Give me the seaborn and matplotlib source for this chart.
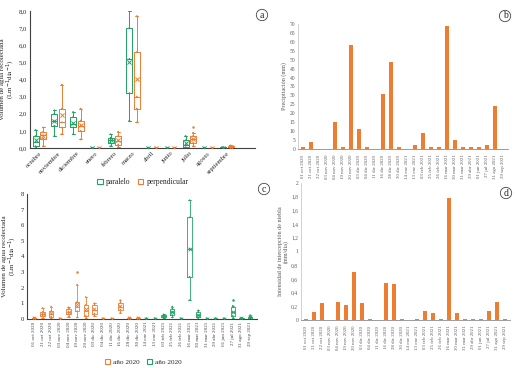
import pandas as pd
import seaborn as sns
import matplotlib.pyplot as plt
from matplotlib.patches import Patch

sns.set_style("white")
plt.rcParams["font.family"] = ["Liberation Serif", "DejaVu Serif"]

VERDE = "#1FA463"
NARANJA = "#ED7D31"

# panel a: resumen de cinco numeros (min, q1, mediana, q3, max) por mes
meses = ["octubre", "noviembre", "diciembre", "enero", "febrero", "marzo",
         "abril", "junio", "julio", "agosto", "septiembre"]
paralelo = [
    [0.0, 0.1, 0.35, 0.7, 1.05],
    [0.7, 1.3, 1.55, 2.0, 2.2],
    [0.8, 1.2, 1.4, 1.8, 2.1],
    [0.0, 0.0, 0.0, 0.0, 0.02],
    [0.1, 0.3, 0.45, 0.6, 0.8],
    [1.6, 3.2, 5.2, 7.0, 8.0],
    [0.0, 0.0, 0.0, 0.0, 0.02],
    [0.0, 0.0, 0.0, 0.0, 0.02],
    [0.0, 0.05, 0.2, 0.45, 0.7],
    [0.0, 0.0, 0.0, 0.0, 0.02],
    [0.0, 0.01, 0.02, 0.03, 0.05],
]
perpendicular = [
    [0.1, 0.55, 0.75, 0.95, 1.2],
    [0.8, 1.2, 1.5, 2.3, 3.7],
    [0.5, 1.0, 1.3, 1.6, 2.3],
    [0.0, 0.0, 0.0, 0.0, 0.02],
    [0.05, 0.2, 0.4, 0.7, 0.95],
    [1.5, 2.3, 3.0, 5.6, 7.7],
    [0.0, 0.0, 0.0, 0.0, 0.02],
    [0.0, 0.0, 0.0, 0.0, 0.02],
    [0.1, 0.3, 0.5, 0.7, 0.9],
    [0.0, 0.0, 0.0, 0.0, 0.02],
    [0.02, 0.05, 0.08, 0.12, 0.15],
]
atipicos_a = [("julio", "perpendicular", 1.2)]

# fechas de muestreo (paneles b, c, d)
fechas = ["01 oct 2020", "21 oct 2020", "22 oct 2020", "03 nov 2020", "04 nov 2020",
          "19 nov 2020", "20 nov 2020", "03 dic 2020", "04 dic 2020", "11 dic 2020",
          "16 dic 2020", "28 dic 2020", "30 dic 2020", "14 ene 2021", "13 ene 2021",
          "03 feb 2021", "25 feb 2021", "26 feb 2021", "16 mar 2021", "30 mar 2021",
          "31 mar 2021", "29 abr 2021", "01 jun 2021", "27 jul 2021", "31 ago 2021",
          "29 sep 2021"]
precipitacion = [1, 4, 0, 0, 15, 1, 58, 11, 1, 0, 31, 49, 1, 0, 2, 9, 1, 1, 69, 5,
                 1, 1, 1, 2, 24, 0]
intensidad = [0.02, 0.12, 0.25, 0.0, 0.27, 0.22, 0.70, 0.25, 0.01, 0.0, 0.54, 0.52,
              0.01, 0.0, 0.02, 0.13, 0.10, 0.01, 1.78, 0.10, 0.01, 0.01, 0.01, 0.13,
              0.27, 0.01]

# panel c: resumen por fecha
anio = ["año 2020"] * 13 + ["año 2020 "] * 13
volumen_c = [
    [0.0, 0.02, 0.05, 0.08, 0.1],
    [0.05, 0.2, 0.3, 0.45, 0.7],
    [0.05, 0.15, 0.3, 0.5, 0.8],
    [0.0, 0.0, 0.02, 0.03, 0.05],
    [0.15, 0.3, 0.45, 0.65, 0.75],
    [0.1, 0.5, 0.8, 1.1, 2.2],
    [0.05, 0.2, 0.5, 0.9, 1.4],
    [0.2, 0.35, 0.6, 0.9, 1.0],
    [0.0, 0.0, 0.02, 0.03, 0.05],
    [0.0, 0.0, 0.02, 0.03, 0.05],
    [0.4, 0.6, 0.8, 1.05, 1.2],
    [0.0, 0.02, 0.05, 0.08, 0.1],
    [0.0, 0.02, 0.05, 0.08, 0.1],
    [0.0, 0.0, 0.02, 0.03, 0.05],
    [0.0, 0.0, 0.02, 0.03, 0.05],
    [0.05, 0.1, 0.2, 0.25, 0.3],
    [0.1, 0.25, 0.45, 0.65, 0.8],
    [0.0, 0.0, 0.02, 0.03, 0.05],
    [1.2, 2.7, 4.5, 6.5, 7.6],
    [0.02, 0.1, 0.25, 0.45, 0.55],
    [0.0, 0.0, 0.02, 0.03, 0.05],
    [0.0, 0.0, 0.02, 0.03, 0.05],
    [0.0, 0.0, 0.02, 0.03, 0.05],
    [0.05, 0.2, 0.45, 0.75, 0.85],
    [0.0, 0.01, 0.03, 0.05, 0.08],
    [0.0, 0.03, 0.1, 0.15, 0.25],
]
atipicos_c = [("19 nov 2020", "año 2020", 3.0), ("27 jul 2021", "año 2020 ", 1.2)]

W, H = 517, 368
fig = plt.figure(figsize=(W / 100, H / 100), dpi=100)


def caja(left, top, right, bottom):
    return fig.add_axes([left / W, 1 - bottom / H, (right - left) / W, (bottom - top) / H])


def etiqueta(x, y, letra):
    fig.text(x / W, 1 - y / H, letra, ha="center", va="center", fontsize=7,
             bbox=dict(boxstyle="circle,pad=0.12", fc="white", ec="#444444", lw=0.6))


# ---------- panel a
filas = []
for m, p, q in zip(meses, paralelo, perpendicular):
    for v in p:
        filas.append((m, "paralelo", v))
    for v in q:
        filas.append((m, "perpendicular", v))
df_a = pd.DataFrame(filas, columns=["mes", "orientacion", "volumen"])
medias_a = df_a.groupby(["mes", "orientacion"], sort=False)["volumen"].mean().reset_index()
atip_a = pd.DataFrame(atipicos_a, columns=["mes", "orientacion", "volumen"])
pal_a = {"paralelo": VERDE, "perpendicular": NARANJA}

ax = caja(30, 11, 255, 148)
sns.boxplot(data=df_a, x="mes", y="volumen", hue="orientacion", order=meses,
            palette=pal_a, fill=False, whis=(0, 100), width=0.8, gap=0.2,
            linewidth=0.7, legend=False, ax=ax)
sns.stripplot(data=df_a, x="mes", y="volumen", hue="orientacion", order=meses,
              palette=pal_a, dodge=True, jitter=False, size=1.3, legend=False, ax=ax)
sns.stripplot(data=medias_a, x="mes", y="volumen", hue="orientacion", order=meses,
              palette=pal_a, dodge=True, jitter=False, marker="x", size=3,
              linewidth=0.7, legend=False, ax=ax)
sns.stripplot(data=atip_a, x="mes", y="volumen", hue="orientacion", order=meses,
              hue_order=["paralelo", "perpendicular"], palette=pal_a, dodge=True,
              jitter=False, size=1.8, legend=False, ax=ax)
ax.set_xlim(-0.5, 11.5)
ax.set_ylim(0, 8)
ticks_a = [0, 1, 2, 3, 4, 5, 6, 7, 8]
ax.set_yticks(ticks_a)
ax.set_yticklabels(["0,0", "1,0", "2,0", "3,0", "4,0", "5,0", "6,0", "7,0", "8,0"])
ax.set_xticks(range(len(meses)))
ax.set_xticklabels(meses, rotation=45, ha="right", rotation_mode="anchor")
ax.tick_params(axis="both", labelsize=4.8, length=0, pad=2)
ax.set_xlabel("")
ax.set_ylabel("Volumen de agua recolectada\n(Lm$^{-1}$día$^{-1}$)", fontsize=5,
              labelpad=1.5, linespacing=1.0)
for s in ["top", "right"]:
    ax.spines[s].set_visible(False)
for s in ["left", "bottom"]:
    ax.spines[s].set_color("#404040")
    ax.spines[s].set_linewidth(0.8)
fig.legend(handles=[Patch(fc="white", ec=VERDE, lw=0.8, label="paralelo"),
                    Patch(fc="white", ec=NARANJA, lw=0.8, label="perpendicular")],
           loc="center", bbox_to_anchor=(143 / W, 1 - 182 / H), ncol=2, frameon=False,
           fontsize=5.5, handlelength=0.7, handleheight=0.7, columnspacing=1.0,
           handletextpad=0.4)

# ---------- panel b y d (barras)
df_bd = pd.DataFrame({"fecha": fechas, "precipitacion": precipitacion,
                      "intensidad": intensidad})


def barras(axb, col, ticks, labels, ylabel):
    sns.barplot(data=df_bd, x="fecha", y=col, color=NARANJA, width=0.5,
                saturation=1, linewidth=0, ax=axb)
    axb.set_ylim(ticks[0], ticks[-1])
    axb.set_yticks(ticks)
    axb.set_yticklabels(labels)
    axb.set_xticks(range(len(fechas)))
    axb.set_xticklabels(fechas, rotation=90)
    axb.tick_params(axis="y", labelsize=4.0, length=0, pad=2, colors="#595959")
    axb.tick_params(axis="x", labelsize=3.5, length=2, width=0.4, pad=2,
                    colors="#595959", direction="out")
    axb.set_xlabel("")
    axb.set_ylabel(ylabel, fontsize=4.4, color="#595959", labelpad=2, linespacing=1.0)
    axb.set_xlim(-0.6, len(fechas) - 0.4)
    for s in ["top", "right"]:
        axb.spines[s].set_visible(False)
    axb.spines["left"].set_color("#BFBFBF")
    axb.spines["left"].set_linewidth(0.5)
    axb.spines["bottom"].set_color("#8C8C8C")
    axb.spines["bottom"].set_linewidth(0.6)


ax_b = caja(298, 24, 508, 149)
ticks_b = [0, 5, 10, 15, 20, 25, 30, 35, 40, 45, 50, 55, 60, 65, 70]
barras(ax_b, "precipitacion", ticks_b, [str(t) for t in ticks_b], "Precipitación (mm)")

ax_d = caja(301, 183, 510, 320)
ticks_d = [0, 0.2, 0.4, 0.6, 0.8, 1.0, 1.2, 1.4, 1.6, 1.8, 2.0]
labels_d = ["0", "0,2", "0,4", "0,6", "0,8", "1", "1,2", "1,4", "1,6", "1,8", "2"]
barras(ax_d, "intensidad", ticks_d, labels_d,
       "Intensidad de intercepción de niebla\n(mm/día)")

# ---------- panel c
filas = []
for f, a, vals in zip(fechas, anio, volumen_c):
    for v in vals:
        filas.append((f, a, v))
df_c = pd.DataFrame(filas, columns=["fecha", "anio", "volumen"])
medias_c = df_c.groupby(["fecha", "anio"], sort=False)["volumen"].mean().reset_index()
atip_c = pd.DataFrame(atipicos_c, columns=["fecha", "anio", "volumen"])
pal_c = {"año 2020": NARANJA, "año 2020 ": VERDE}

ax_c = caja(27, 194, 257, 319)
sns.boxplot(data=df_c, x="fecha", y="volumen", hue="anio", order=fechas, palette=pal_c,
            fill=False, dodge=False, whis=(0, 100), width=0.5, linewidth=0.6,
            legend=False, ax=ax_c)
sns.stripplot(data=df_c, x="fecha", y="volumen", hue="anio", order=fechas, palette=pal_c,
              dodge=False, jitter=False, size=1.2, legend=False, ax=ax_c)
sns.stripplot(data=medias_c, x="fecha", y="volumen", hue="anio", order=fechas,
              palette=pal_c, dodge=False, jitter=False, marker="x", size=2.6,
              linewidth=0.6, legend=False, ax=ax_c)
sns.stripplot(data=atip_c, x="fecha", y="volumen", hue="anio", order=fechas,
              palette=pal_c, dodge=False, jitter=False, size=1.8, legend=False, ax=ax_c)
ax_c.set_xlim(-0.8, len(fechas) - 0.2)
ax_c.set_ylim(0, 8)
ax_c.set_yticks(range(9))
ax_c.set_yticklabels([str(t) for t in range(9)])
ax_c.set_xticks(range(len(fechas)))
ax_c.set_xticklabels(fechas, rotation=90)
ax_c.tick_params(axis="y", labelsize=4.8, length=0, pad=2)
ax_c.tick_params(axis="x", labelsize=3.6, length=0, pad=2, colors="#404040")
ax_c.set_xlabel("")
ax_c.set_ylabel("Volumen de agua recolectada\n(Lm$^{-1}$día$^{-1}$)", fontsize=5,
                labelpad=1.5, linespacing=1.0)
for s in ["top", "right"]:
    ax_c.spines[s].set_visible(False)
for s in ["left", "bottom"]:
    ax_c.spines[s].set_color("#404040")
    ax_c.spines[s].set_linewidth(0.8)
fig.legend(handles=[Patch(fc="white", ec=NARANJA, lw=0.8, label="año 2020"),
                    Patch(fc="white", ec=VERDE, lw=0.8, label="año 2020")],
           loc="center", bbox_to_anchor=(143 / W, 1 - 362 / H), ncol=2, frameon=False,
           fontsize=5.2, handlelength=0.7, handleheight=0.7, columnspacing=1.0,
           handletextpad=0.4)

etiqueta(262, 15, "a")
etiqueta(505, 16, "b")
etiqueta(264, 189, "c")
etiqueta(506, 193, "d")

fig.savefig("out.png", dpi=100)
